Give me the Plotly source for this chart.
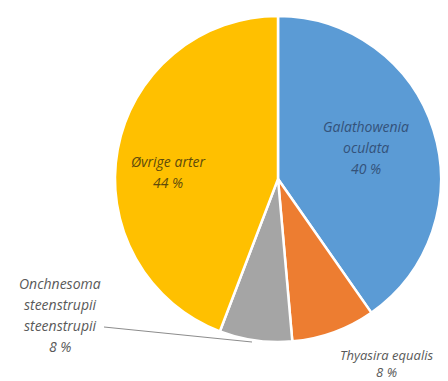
import plotly.graph_objects as go

labels = ["Galathowenia oculata", "Thyasira equalis", "Onchnesoma steenstrupii steenstrupii", "Øvrige arter"]
values = [40.3, 8.3, 7.2, 44.2]
pct_labels = ["40 %", "8 %", "8 %", "44 %"]
colors = ["#5B9BD5", "#ED7D31", "#A5A5A5", "#FFC000"]

W, H = 448, 381
cx, cy, r = 278, 179, 163

fig = go.Figure(go.Pie(
    labels=labels, values=values, sort=False, direction="clockwise", rotation=0,
    marker=dict(colors=colors, line=dict(color="white", width=2.5)),
    textinfo="none", hoverinfo="label+percent", showlegend=False,
    domain=dict(x=[(cx - r) / W, (cx + r) / W], y=[(H - cy - r) / H, (H - cy + r) / H]),
))

def px(x, y):
    return x / W, 1 - y / H

FONT = "Open Sans, Liberation Sans, sans-serif"
SIZE = 14
# each label: lines, centre x, first-line y, line step, colour
label_blocks = [
    (["Galathowenia", "oculata", pct_labels[0]], 366, 126, 21, "#34527A"),
    (["Onchnesoma", "steenstrupii", "steenstrupii", pct_labels[2]], 60, 283, 21, "#595959"),
    (["Øvrige arter", pct_labels[3]], 168, 161, 21, "#5E4B0C"),
]
for lines, x, y, step, c in label_blocks:
    for i, t in enumerate(lines):
        ax, ay = px(x, y + i * step)
        fig.add_annotation(text="<i>" + t + "</i>", x=ax, y=ay, xref="paper", yref="paper",
                           showarrow=False, font=dict(color=c, family=FONT, size=SIZE),
                           xanchor="center", yanchor="middle")

# Thyasira label as one two-line block (close to the bottom edge)
ax, ay = px(386, 363)
fig.add_annotation(text="<i>" + labels[1] + "<br>" + pct_labels[1] + "</i>", x=ax, y=ay,
                   xref="paper", yref="paper", showarrow=False, align="center",
                   font=dict(color="#595959", family=FONT, size=13),
                   xanchor="center", yanchor="middle")

x0, y0 = px(104, 327)
x1, y1 = px(252, 342)
fig.add_shape(type="line", xref="paper", yref="paper", x0=x0, y0=y0, x1=x1, y1=y1,
              line=dict(color="#8C8C8C", width=1))

fig.update_layout(width=W, height=H, margin=dict(l=0, r=0, t=0, b=0),
                  paper_bgcolor="white", plot_bgcolor="white")
fig.write_html("out.html")
